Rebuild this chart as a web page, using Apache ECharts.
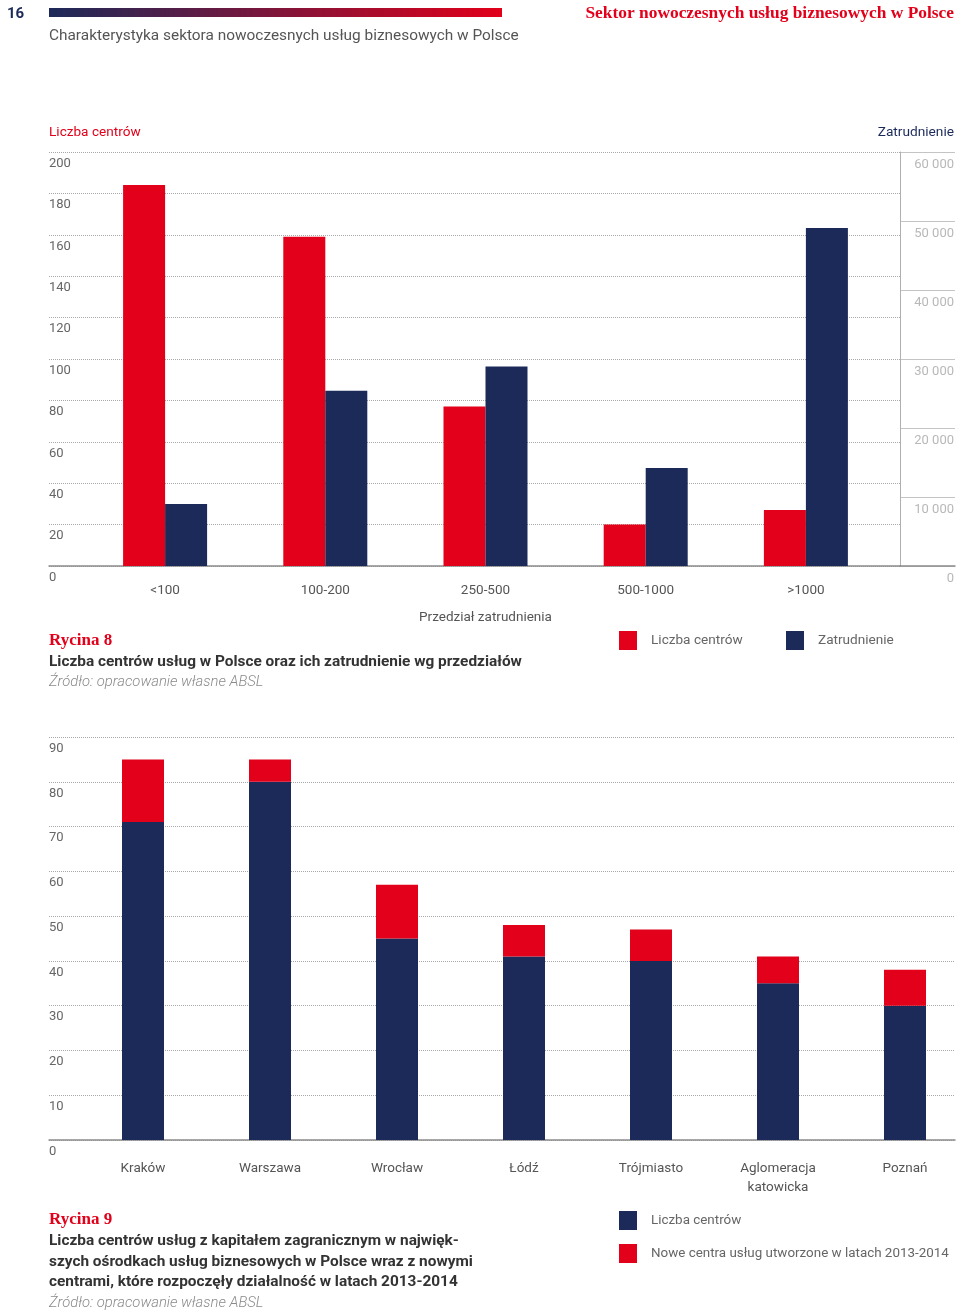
<!DOCTYPE html>
<html>
<head>
<meta charset="utf-8">
<script src="https://cdn.jsdelivr.net/npm/echarts@6/dist/echarts.min.js"></script>
<style>
  html, body { margin: 0; padding: 0; background: #fff; overflow: hidden; }
  #chartTop { position: absolute; left: 0; top: 0; width: 960px; height: 700px; }
  #chartBottom { position: absolute; left: 0; top: 700px; width: 970px; height: 613px; }
</style>
</head>
<body>
<div id="chartTop"></div>
<div id="chartBottom"></div>
<script>
// ---- Data: Rycina 8 ----
const sizeCategories = ['<100', '100-200', '250-500', '500-1000', '>1000'];
const centersCount = [184, 159, 77, 20, 27];
const employment = [9000, 25400, 28900, 14200, 49000];
const leftTicks = { min: 0, max: 200, interval: 20 };
const rightTicks = { min: 0, max: 60000, interval: 10000 };

// ---- Data: Rycina 9 ----
const cities = ['Kraków', 'Warszawa', 'Wrocław', 'Łódź', 'Trójmiasto', 'Aglomeracja\nkatowicka', 'Poznań'];
const cityCenters = [71, 80, 45, 41, 40, 35, 30];
const newCenters = [14, 5, 12, 7, 7, 6, 8];
const bottomTicks = { min: 0, max: 90, interval: 10 };

const RED = '#E2001A';
const NAVY = '#1C2A5A';
const FONT = 'Roboto, "Noto Sans", sans-serif';
const SERIF = '"Liberation Serif", "DejaVu Serif", serif';
const GRID_DOT = { type: 'dotted', color: '#a8a8a8', width: 1 };

function txt(text, x, y, opts) {
  return {
    type: 'text', silent: true,
    style: Object.assign({
      text: text, x: x, y: y + 2,
      fontFamily: FONT, fontSize: 13, fill: '#555',
      textAlign: 'left', textVerticalAlign: 'middle'
    }, opts || {})
  };
}

// ================= TOP CHART =================
const chartTop = echarts.init(document.getElementById('chartTop'), null, { renderer: 'canvas' });
const TOP_T = 152, TOP_B = 134;
chartTop.setOption({
  animation: false,
  textStyle: { fontFamily: FONT },
  grid: [
    { left: 49, right: 60, top: TOP_T, bottom: TOP_B },   // background grid (left axis)
    { left: 85, right: 74, top: TOP_T, bottom: TOP_B },   // bars
    { left: 900, right: 5, top: TOP_T, bottom: TOP_B }    // right axis
  ],
  xAxis: [
    { gridIndex: 0, type: 'value', min: 0, max: 1,
      axisLine: { show: true, lineStyle: { color: '#8c8c8c', width: 1.5 } },
      axisTick: { show: false }, axisLabel: { show: false }, splitLine: { show: false } },
    { gridIndex: 1, type: 'category', data: sizeCategories,
      axisLine: { show: false }, axisTick: { show: false },
      axisLabel: { color: '#555', fontSize: 13.5, margin: 18, fontFamily: FONT },
      name: 'Przedział zatrudnienia', nameLocation: 'middle', nameGap: 45,
      nameTextStyle: { color: '#555', fontSize: 13.5, fontFamily: FONT } },
    { gridIndex: 2, type: 'value', min: 0, max: 1,
      axisLine: { show: true, lineStyle: { color: '#8c8c8c', width: 1.5 } },
      axisTick: { show: false }, axisLabel: { show: false }, splitLine: { show: false } }
  ],
  yAxis: [
    { gridIndex: 0, type: 'value', position: 'left', min: leftTicks.min, max: leftTicks.max, interval: leftTicks.interval,
      axisLine: { show: false }, axisTick: { show: false },
      axisLabel: { inside: true, margin: 0, color: '#666', fontSize: 13, fontFamily: FONT,
        verticalAlign: 'top', padding: [5, 0, 0, 0] },
      splitLine: { lineStyle: GRID_DOT } },
    { gridIndex: 1, type: 'value', min: leftTicks.min, max: leftTicks.max, show: false },
    { gridIndex: 1, type: 'value', min: rightTicks.min, max: rightTicks.max, show: false },
    { gridIndex: 2, type: 'value', position: 'right', min: rightTicks.min, max: rightTicks.max, interval: rightTicks.interval,
      axisLine: { show: false }, axisTick: { show: false },
      axisLabel: { inside: true, margin: 1, color: '#b8b8b8', fontSize: 13, fontFamily: FONT,
        verticalAlign: 'top', padding: [6, 0, 0, 0],
        formatter: v => String(v).replace(/\B(?=(\d{3})+(?!\d))/g, ' ') },
      splitLine: { lineStyle: { color: '#c4c4c4', width: 1 } } },
    { gridIndex: 2, type: 'value', position: 'left', min: rightTicks.min, max: rightTicks.max,
      axisLine: { show: true, lineStyle: { color: '#b0b0b0', width: 1 } },
      axisTick: { show: false }, axisLabel: { show: false }, splitLine: { show: false } }
  ],
  legend: [
    { data: ['Liczba centrów'], left: 614, top: 626, icon: 'rect', itemWidth: 18, itemHeight: 19,
      selectedMode: false,
      textStyle: { color: '#666', fontSize: 13.6, fontFamily: FONT, padding: [0, 0, 0, 9] } },
    { data: ['Zatrudnienie'], left: 781, top: 626, icon: 'rect', itemWidth: 18, itemHeight: 19,
      selectedMode: false,
      textStyle: { color: '#666', fontSize: 13.6, fontFamily: FONT, padding: [0, 0, 0, 9] } }
  ],
  series: [
    { name: 'Liczba centrów', type: 'bar', xAxisIndex: 1, yAxisIndex: 1,
      data: centersCount, barWidth: 42, barGap: '0%', itemStyle: { color: RED } },
    { name: 'Zatrudnienie', type: 'bar', xAxisIndex: 1, yAxisIndex: 2,
      data: employment, barWidth: 42, barGap: '0%', itemStyle: { color: NAVY } }
  ],
  graphic: [
    txt('16', 7, 12, { fontWeight: 'bold', fontSize: 15, fill: NAVY }),
    { type: 'rect', silent: true, shape: { x: 49, y: 8, width: 453, height: 9 },
      style: { fill: new echarts.graphic.LinearGradient(0, 0, 1, 0, [
        { offset: 0, color: NAVY }, { offset: 1, color: RED }]) } },
    txt('Sektor nowoczesnych usług biznesowych w Polsce', 954, 12,
      { fontFamily: SERIF, fontWeight: 'bold', fontSize: 17.4, fill: RED, textAlign: 'right' }),
    txt('Charakterystyka sektora nowoczesnych usług biznesowych w Polsce', 49, 34,
      { fontSize: 15.4, fill: '#555' }),
    txt('Liczba centrów', 49, 131, { fontSize: 13.6, fill: RED }),
    txt('Zatrudnienie', 954, 131, { fontSize: 13.7, fill: NAVY, textAlign: 'right' }),
    txt('Rycina 8', 49, 639, { fontFamily: SERIF, fontWeight: 'bold', fontSize: 17, fill: RED }),
    txt('Liczba centrów usług w Polsce oraz ich zatrudnienie wg przedziałów', 49, 660,
      { fontWeight: 'bold', fontSize: 15.4, fill: '#333' }),
    txt('Źródło: opracowanie własne ABSL', 49, 680,
      { fontStyle: 'italic', fontWeight: 300, fontSize: 14.8, fill: '#8a8a8a' })
  ]
});

// ================= BOTTOM CHART =================
const chartBottom = echarts.init(document.getElementById('chartBottom'), null, { renderer: 'canvas' });
const BOT_T = 37, BOT_B = 173;
chartBottom.setOption({
  animation: false,
  textStyle: { fontFamily: FONT },
  grid: [
    { left: 49, right: 15, top: BOT_T, bottom: BOT_B },
    { left: 79.5, right: 1.5, top: BOT_T, bottom: BOT_B }
  ],
  xAxis: [
    { gridIndex: 0, type: 'value', min: 0, max: 1,
      axisLine: { show: true, lineStyle: { color: '#8c8c8c', width: 1.5 } },
      axisTick: { show: false }, axisLabel: { show: false }, splitLine: { show: false } },
    { gridIndex: 1, type: 'category', data: cities,
      axisLine: { show: false }, axisTick: { show: false },
      axisLabel: { color: '#555', fontSize: 13.5, margin: 19, lineHeight: 19, fontFamily: FONT } }
  ],
  yAxis: [
    { gridIndex: 0, type: 'value', min: bottomTicks.min, max: bottomTicks.max, interval: bottomTicks.interval,
      axisLine: { show: false }, axisTick: { show: false },
      axisLabel: { inside: true, margin: 0, color: '#666', fontSize: 13, fontFamily: FONT,
        verticalAlign: 'top', padding: [5, 0, 0, 0] },
      splitLine: { lineStyle: GRID_DOT } },
    { gridIndex: 1, type: 'value', min: bottomTicks.min, max: bottomTicks.max, show: false }
  ],
  legend: {
    data: ['Liczba centrów', 'Nowe centra usług utworzone w latach 2013-2014'],
    orient: 'vertical', left: 614, top: 506, itemGap: 14,
    icon: 'rect', itemWidth: 18, itemHeight: 19, selectedMode: false,
    textStyle: { color: '#666', fontSize: 13.4, fontFamily: FONT, padding: [0, 0, 0, 9] }
  },
  series: [
    { name: 'Liczba centrów', type: 'bar', stack: 'c', xAxisIndex: 1, yAxisIndex: 1,
      data: cityCenters, barWidth: 42, itemStyle: { color: NAVY } },
    { name: 'Nowe centra usług utworzone w latach 2013-2014', type: 'bar', stack: 'c', xAxisIndex: 1, yAxisIndex: 1,
      data: newCenters, barWidth: 42, itemStyle: { color: RED } }
  ],
  graphic: [
    txt('Rycina 9', 49, 518, { fontFamily: SERIF, fontWeight: 'bold', fontSize: 17, fill: RED }),
    txt('Liczba centrów usług z kapitałem zagranicznym w najwięk-', 49, 539,
      { fontWeight: 'bold', fontSize: 15.4, fill: '#333' }),
    txt('szych ośrodkach usług biznesowych w Polsce wraz z nowymi', 49, 560,
      { fontWeight: 'bold', fontSize: 15.4, fill: '#333' }),
    txt('centrami, które rozpoczęły działalność w latach 2013-2014', 49, 580,
      { fontWeight: 'bold', fontSize: 15.4, fill: '#333' }),
    txt('Źródło: opracowanie własne ABSL', 49, 601,
      { fontStyle: 'italic', fontWeight: 300, fontSize: 14.8, fill: '#8a8a8a' })
  ]
});
</script>
</body>
</html>
